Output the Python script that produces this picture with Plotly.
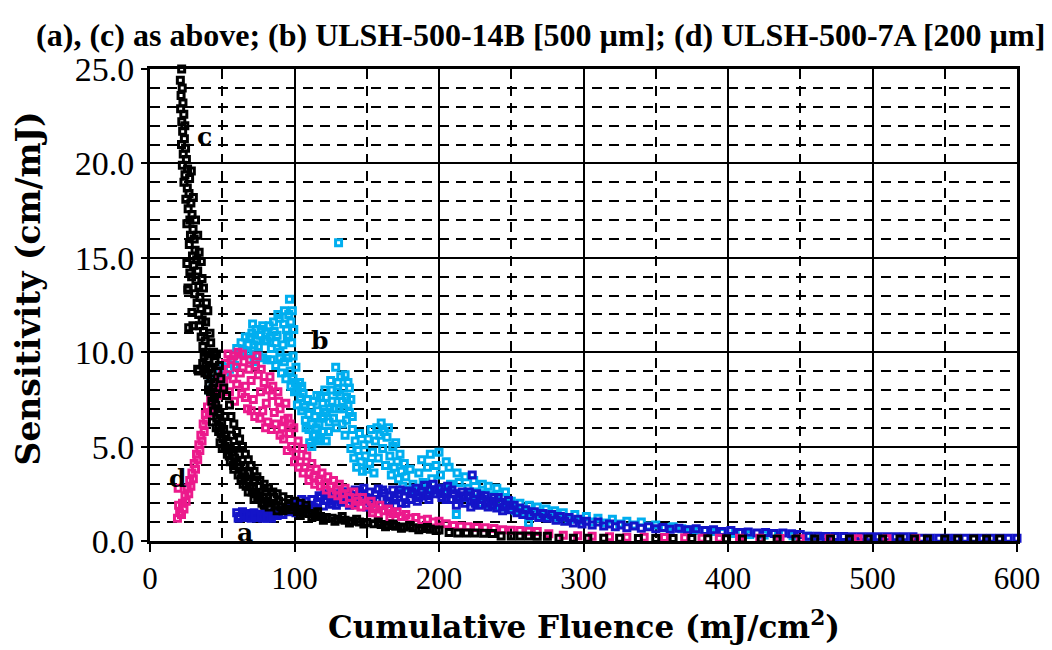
import plotly.graph_objects as go

# Sensitivity vs cumulative fluence, four samples (a)-(d)

# (c) black
c_points = [
    (21.9, 25.0), (21.0, 24.4), (22.3, 24.0), (21.5, 23.6), (22.8, 23.2), (21.2, 22.9), (23.4, 22.6),
    (22.0, 22.2), (24.1, 22.0), (22.6, 21.7), (23.8, 21.3), (21.8, 21.0), (24.6, 20.8), (23.0, 20.5),
    (25.2, 20.2), (22.4, 19.9), (26.0, 19.7), (24.2, 19.4), (27.4, 19.2), (23.5, 19.0), (25.8, 18.7),
    (27.0, 18.4), (24.8, 18.1), (28.3, 17.9), (26.4, 17.6), (29.1, 17.3), (27.6, 17.0), (25.5, 16.8),
    (29.8, 16.5), (28.0, 16.2), (30.6, 16.0), (27.2, 15.7), (31.2, 15.4), (29.4, 15.1), (32.3, 14.9),
    (30.2, 14.6), (33.0, 14.3), (28.8, 14.0), (31.8, 13.8), (33.8, 13.5), (26.3, 13.4), (30.9, 13.1),
    (34.5, 12.9), (32.6, 12.6), (35.2, 12.3), (29.0, 12.1), (33.7, 12.0), (36.1, 11.7), (34.3, 11.4),
    (26.8, 11.3), (37.0, 11.1), (35.4, 10.8), (38.2, 10.6), (36.6, 10.3), (39.0, 10.0), (37.5, 9.8),
    (40.1, 9.6), (38.6, 9.3), (41.0, 9.1), (33.5, 9.0), (39.8, 8.8), (42.2, 8.6), (40.7, 8.3),
    (43.5, 8.1), (41.9, 7.9), (44.6, 7.6), (42.8, 7.4), (45.5, 7.2), (47.0, 7.0), (44.0, 6.9),
    (48.3, 6.7), (46.2, 6.5), (49.6, 6.3), (47.8, 6.1), (51.0, 5.9), (49.2, 5.7), (52.6, 5.6),
    (50.5, 5.4), (54.0, 5.2), (52.0, 5.0), (55.5, 4.9), (57.0, 4.7), (54.8, 4.5), (58.6, 4.4),
    (60.2, 4.2), (57.8, 4.0), (62.0, 3.9), (63.8, 3.7), (61.0, 3.5), (65.6, 3.4), (67.5, 3.2),
    (64.5, 3.0), (69.4, 2.9), (71.5, 2.8), (68.0, 2.6), (73.6, 2.5), (76.0, 2.4), (72.0, 2.2),
    (78.5, 2.3), (81.0, 2.1), (84.0, 2.0), (79.0, 1.9), (87.0, 1.9), (90.5, 1.8), (94.0, 1.7),
    (88.0, 1.6), (98.0, 1.65), (36.5, 9.4), (38.0, 8.9), (40.5, 8.0), (42.0, 9.2), (44.2, 8.4),
    (45.8, 6.0), (43.2, 6.3), (47.5, 5.8), (46.0, 7.8), (48.5, 5.2), (50.0, 4.9), (51.8, 6.6),
    (53.5, 4.6), (55.6, 4.2), (56.4, 5.6), (58.0, 3.8), (59.5, 5.0), (61.8, 4.6), (63.0, 3.3),
    (65.0, 4.0), (66.5, 2.9), (68.8, 3.6), (70.6, 2.6), (72.5, 3.2), (74.5, 2.2), (75.8, 2.9),
    (77.5, 2.0), (80.0, 2.6), (82.5, 1.8), (85.5, 2.3), (89.0, 2.1), (92.0, 1.6), (96.0, 2.0),
    (34.0, 15.3), (35.5, 14.8), (33.0, 16.2), (31.5, 17.0), (30.0, 18.2), (28.6, 19.6),
    (37.0, 13.4), (39.0, 12.6), (40.0, 12.2), (36.0, 13.9), (38.5, 11.6), (41.5, 11.0),
    (42.0, 10.5), (44.0, 10.0), (46.0, 9.9), (48.0, 9.3), (45.0, 9.5), (47.0, 9.0), (49.0, 8.6),
    (51.0, 8.1), (53.0, 7.7), (55.0, 7.2), (56.0, 6.6), (58.0, 6.2), (60.0, 5.8), (62.0, 5.4),
    (64.0, 5.0), (66.0, 4.6), (68.0, 4.3), (70.0, 4.0), (72.0, 3.7), (74.0, 3.4), (76.0, 3.2),
    (79.0, 3.0), (82.0, 2.8), (85.0, 2.6), (88.0, 2.5), (92.0, 2.35), (96.0, 2.2), (100, 2.1),
    (104, 2.0), (108, 1.9), (25.5, 14.7), (27.6, 14.2), (26.2, 13.3), (29.7, 11.4), (33.0, 9.1),
    (100, 1.8), (102, 1.55), (106, 1.5), (104, 1.35), (108, 1.7), (110, 1.45), (112, 1.25),
    (114, 1.4), (116, 1.55), (118, 1.3), (120, 1.1), (122, 1.25), (126, 1.2), (128, 1.05),
    (130, 1.15), (133, 1.3), (135, 1.1), (138, 0.95), (140, 1.05), (143, 1.15), (145, 1.0),
    (148, 0.9), (150, 0.98), (155, 0.92), (158, 1.0), (160, 0.88), (163, 0.75), (165, 0.82),
    (168, 0.9), (170, 0.78), (174, 0.68), (176, 0.74), (180, 0.82), (182, 0.7), (186, 0.6),
    (188, 0.66), (192, 0.72), (194, 0.62), (198, 0.55), (200, 0.58), (207, 0.45), (213, 0.43),
    (219, 0.42), (225, 0.42), (231, 0.41), (237, 0.4), (243, 0.27), (250, 0.27), (256, 0.26),
    (262, 0.26), (268, 0.25), (275, 0.25), (283, 0.15), (293, 0.15), (303, 0.14), (314, 0.14),
    (325, 0.14), (338, 0.13), (350, 0.13), (362, 0.13), (375, 0.13), (386, 0.12), (399, 0.12),
    (410, 0.11), (423, 0.11), (434, 0.11), (447, 0.1), (460, 0.1), (471, 0.1), (484, 0.1),
    (497, 0.1), (507, 0.1), (519, 0.1), (529, 0.1), (538, 0.1), (550, 0.1), (559, 0.1),
    (570, 0.1), (579, 0.1), (588, 0.1),
]

# (d) magenta
d_points = [
    (19.0, 1.2), (20.5, 1.5), (19.8, 1.9), (21.8, 1.4), (22.5, 2.0), (23.5, 1.7), (24.2, 2.4),
    (25.0, 2.1), (25.8, 2.8), (26.8, 2.5), (27.5, 3.2), (28.3, 2.9), (29.0, 3.6), (30.0, 3.3),
    (30.6, 4.1), (31.5, 3.8), (32.2, 4.6), (33.0, 4.3), (33.8, 5.1), (34.5, 4.8), (35.2, 5.6),
    (36.0, 5.3), (36.8, 6.2), (37.5, 5.8), (38.3, 6.7), (39.0, 6.4), (39.8, 7.1), (41.0, 6.8),
    (42.0, 7.5), (43.0, 7.2), (44.0, 7.9), (45.2, 8.3), (46.5, 7.7), (47.5, 8.6), (48.8, 8.1),
    (50.0, 9.0), (51.0, 8.4), (52.2, 9.4), (53.5, 8.8), (55.0, 7.9), (56.0, 9.6), (57.5, 8.6),
    (58.5, 7.4), (60.0, 9.2), (61.0, 10.0), (62.5, 8.9), (63.5, 7.8), (65.0, 9.5), (66.0, 8.2),
    (67.5, 7.0), (68.5, 9.1), (70.0, 8.5), (71.5, 7.5), (72.5, 6.6), (74.0, 9.8), (75.0, 8.8),
    (76.5, 7.9), (78.0, 6.9), (79.0, 8.4), (80.5, 7.3), (81.5, 6.3), (83.0, 8.7), (84.5, 7.7),
    (86.0, 6.8), (87.0, 6.2), (88.5, 7.9), (90.0, 7.0), (91.5, 6.0), (92.5, 5.4), (94.0, 7.3),
    (95.5, 6.5), (96.5, 5.7), (98.0, 5.0), (99.5, 6.0), (101, 4.6), (102.5, 5.3), (104, 4.2),
    (105.5, 4.9), (107, 3.9), (108.5, 4.5), (110, 3.6), (112, 4.1), (113.5, 3.4), (115, 3.8),
    (117, 3.2), (119, 3.6), (121, 3.0), (123, 3.4), (125, 2.9), (127, 3.2), (129, 2.7),
    (131, 3.0), (133, 2.5), (135, 2.8), (138, 2.3), (141, 2.6), (144, 2.1), (147, 2.3),
    (54, 9.9), (58, 9.8), (64, 9.9), (69, 9.6), (73, 9.3), (77, 9.1), (82, 8.0), (85, 8.2),
    (89, 7.4), (93, 6.4), (97, 6.2), (60, 8.3), (66, 7.6), (70, 6.9), (76, 6.5), (80, 6.0),
    (84, 5.9), (90, 5.6), (95, 4.8), (100, 4.2), (103, 3.9), (106, 3.6), (110, 3.2), (114, 3.0),
    (118, 2.9), (122, 2.7), (126, 2.5), (130, 2.4), (134, 2.2), (138, 2.0), (142, 1.9),
    (146, 1.8), (154, 1.5), (158, 1.4), (166, 1.25), (19.5, 2.8),
    (150, 1.9), (153, 2.1), (156, 1.7), (159, 1.9), (162, 1.6), (165, 1.7), (168, 1.45),
    (171, 1.55), (174, 1.3), (177, 1.4), (180, 1.2), (184, 1.25), (188, 1.1), (192, 1.15),
    (196, 1.0), (200, 1.05), (205, 0.92), (210, 0.82), (215, 0.78), (220, 0.76), (226, 0.72),
    (232, 0.7), (238, 0.66), (244, 0.6), (250, 0.57), (256, 0.55), (262, 0.52), (268, 0.5),
    (276, 0.38), (286, 0.3), (296, 0.28), (306, 0.25), (318, 0.22), (330, 0.2), (342, 0.2),
    (356, 0.18), (370, 0.17), (382, 0.15), (394, 0.15), (408, 0.14), (422, 0.14), (436, 0.13),
    (450, 0.12), (470, 0.12), (490, 0.12), (510, 0.12), (530, 0.12),
]

# (b) cyan
b_points = [
    (41.0, 8.0), (42.5, 7.6), (41.8, 8.6), (44.0, 8.4), (46.0, 8.0), (47.5, 8.9), (49.0, 8.5),
    (50.5, 9.2), (52.0, 8.8), (53.5, 9.4), (55.0, 9.1), (57.0, 9.6), (58.5, 9.3), (60.0, 10.2),
    (61.5, 9.9), (63.0, 10.5), (64.5, 10.1), (66.0, 10.8), (67.5, 10.0), (69.0, 10.8), (70.5, 11.0),
    (72.0, 10.4), (73.5, 11.2), (75.0, 9.8), (76.5, 10.9), (78.0, 11.4), (79.5, 10.6), (81.0, 9.6),
    (82.5, 11.4), (84.0, 10.2), (85.5, 11.6), (87.0, 9.3), (88.0, 10.9), (89.5, 11.8), (91.0, 8.9),
    (92.0, 10.4), (93.0, 12.2), (94.5, 11.2), (95.5, 9.7), (96.5, 12.8), (97.5, 11.6), (98.0, 10.5),
    (99.0, 8.6), (100, 7.9), (101, 9.2), (102, 7.2), (103.5, 8.4), (105, 6.9), (106, 7.8),
    (68, 10.4), (71, 11.5), (74, 10.6), (77, 11.2), (80, 11.0), (83, 10.8), (86, 11.1),
    (88.5, 12.0), (90, 10.0), (92.5, 11.5), (95, 10.8), (97, 9.0), (98.5, 12.2), (69, 9.9),
    (72, 9.5), (75, 10.3), (78, 9.7), (81, 10.6), (84, 9.6), (87, 10.5), (90, 9.7), (93, 9.5),
    (96, 10.9), (99, 9.8), (94, 8.6), (97.5, 8.2), (99.5, 11.2), (96, 12.0),
    (100.5, 8.4), (102, 8.0), (104, 7.6), (105, 8.2), (107, 7.1), (108, 6.0), (110, 6.7),
    (112, 6.2), (113, 7.4), (115, 6.0), (116, 6.9), (118, 7.6), (119, 6.5), (120, 5.8),
    (122, 7.6), (124, 6.3), (124.5, 7.0), (126, 8.0), (127.5, 7.0), (129, 6.0), (130, 8.4),
    (131.5, 7.7), (133, 7.4), (134, 7.0), (135, 8.8), (136, 6.4), (137, 7.2), (138, 8.1),
    (139, 7.5), (140, 6.6), (110.5, 5.2), (112, 5.0), (114, 5.6), (116, 5.3), (120, 6.6),
    (122, 5.3),
    (107.5, 6.4), (109, 7.5), (110, 5.9), (111.5, 7.1), (113, 5.6), (114, 6.6), (115.5, 7.7),
    (117, 6.2), (118, 5.4), (119.5, 7.3), (121, 8.0), (122, 6.8), (123.5, 5.8), (125, 8.5),
    (126, 7.4), (127, 6.5), (128.5, 9.2), (129.5, 7.9), (130.5, 15.8), (131, 7.0), (132, 8.7),
    (133, 6.2), (134, 8.1), (135, 5.6), (136, 7.6), (137, 8.4), (138, 6.8), (139, 4.9),
    (140, 5.9), (141, 4.4), (142, 5.3), (143, 3.9), (144, 4.8), (145, 5.7), (146, 4.2),
    (147, 3.7), (148, 5.1), (149, 4.5), (150, 3.8), (151, 5.4), (152, 4.1), (153, 5.9),
    (154, 4.7), (155, 3.6), (156, 5.3), (157, 6.0), (158, 4.4), (159, 5.6), (160, 6.25),
    (161, 4.9), (162, 5.8), (163, 4.0), (164, 5.5), (165, 6.0), (166, 4.5), (167, 3.5),
    (168, 5.0), (169, 3.9), (170, 5.2), (171, 4.2), (172, 3.3), (173, 4.6), (174, 3.7),
    (175, 2.9), (176, 4.1), (177, 3.4), (178, 2.7), (180, 3.8), (182, 3.0), (184, 2.6),
    (186, 3.6), (188, 4.3), (189, 3.1), (191, 2.5), (192, 3.9), (194, 4.6), (195, 3.3),
    (197, 2.7), (198, 4.0), (200, 4.7), (201, 3.5), (203, 2.8), (205, 4.2), (207, 3.9),
    (208, 3.0), (210, 2.5), (212, 1.4), (212.5, 3.6), (214, 3.1), (216, 2.3), (218, 3.4),
    (220, 2.8), (222, 2.1), (224, 3.2), (226, 2.6), (228, 2.0), (230, 3.0), (232, 2.5),
    (234, 2.9), (236, 1.9), (238, 2.4), (240, 2.8), (242, 1.8), (244, 2.3), (246, 2.6),
    (248, 1.7), (250, 2.1), (253, 1.6), (256, 2.0), (259, 1.5), (262, 0.95), (262.5, 1.9),
    (265, 1.45), (268, 1.8), (271, 1.35), (274, 1.7), (277, 1.3), (280, 1.6), (283, 1.25),
    (286, 1.5), (290, 1.15), (294, 1.4), (298, 1.1), (302, 1.3), (306, 1.0), (310, 1.2),
    (315, 0.95), (320, 1.15), (325, 0.9), (330, 1.05), (335, 0.85), (340, 1.0), (345, 0.8),
    (350, 0.85), (356, 0.7), (362, 0.75), (368, 0.65), (374, 0.6), (380, 0.55), (388, 0.5),
    (396, 0.45), (405, 0.4), (415, 0.35), (425, 0.32), (435, 0.3), (445, 0.28), (455, 0.25),
]

# (a) blue
a_points = [
    (60, 1.5), (62, 1.3), (64, 1.55), (66, 1.25), (68, 1.45), (70, 1.2), (72, 1.5), (74, 1.25),
    (76, 1.4), (78, 1.2), (80, 1.45), (82, 1.3), (84, 1.2), (86, 1.5), (88, 1.35), (90, 1.6),
    (92, 1.4), (94, 1.75), (96, 1.55), (98, 1.9), (100, 1.7), (102, 2.0), (104, 1.8), (106, 1.6),
    (108, 2.1), (110, 1.9), (112, 2.2), (114, 1.75), (116, 2.0), (118, 2.3), (120, 1.85),
    (122, 2.15), (124, 2.4), (126, 1.95), (128, 2.25), (130, 2.5), (132, 2.05), (134, 2.35),
    (136, 2.6), (138, 1.9), (140, 2.4), (142, 2.7), (144, 2.2), (146, 2.5), (148, 2.8),
    (150, 1.8), (152, 2.6), (154, 2.15), (156, 2.45), (158, 2.75), (160, 1.9), (162, 2.55),
    (164, 2.1), (166, 2.4), (168, 2.7), (170, 1.85), (172, 2.5), (174, 2.0), (176, 2.35),
    (178, 2.65), (180, 2.2), (182, 2.5), (184, 2.8), (186, 2.3), (188, 2.6), (190, 2.95),
    (192, 2.4), (194, 2.7), (196, 3.0), (198, 2.5), (200, 2.8), (202, 2.3), (204, 2.6),
    (206, 2.9), (208, 2.2), (210, 2.5), (212, 1.9), (214, 2.35), (216, 2.6), (218, 2.0),
    (220, 2.4), (222, 1.8), (223, 3.5), (224, 2.2), (226, 2.5), (228, 1.9), (230, 2.2),
    (101, 1.5), (105, 2.2), (109, 1.7), (113, 1.8), (117, 2.4), (121, 2.5), (125, 2.1),
    (129, 1.9), (133, 2.6), (137, 2.3), (141, 2.0), (145, 2.65), (149, 2.3), (153, 2.0),
    (157, 2.2), (161, 2.7), (165, 2.0), (169, 2.3), (173, 2.7), (177, 2.0), (181, 2.6),
    (185, 2.1), (189, 2.4), (193, 2.2), (197, 2.7), (201, 2.5), (205, 2.2), (209, 2.7),
    (213, 2.2), (217, 2.4), (221, 2.6), (225, 2.0), (229, 2.4), (233, 2.0), (237, 1.9),
    (241, 2.3), (245, 1.8), (249, 1.9), (61, 1.2), (65, 1.4), (69, 1.3), (73, 1.35),
    (77, 1.3), (81, 1.2), (85, 1.35), (89, 1.5), (93, 1.6), (97, 1.7),
    (232, 2.4), (234, 1.8), (236, 2.1), (238, 2.3), (240, 1.75), (242, 2.05), (244, 1.6),
    (246, 1.9), (248, 2.15), (250, 1.65), (252, 1.9), (254, 1.5), (256, 1.75), (258, 1.4),
    (260, 1.65), (263, 1.35), (266, 1.55), (269, 1.25), (272, 1.45), (275, 1.2), (278, 1.4),
    (281, 1.1), (284, 1.3), (287, 1.05), (290, 1.25), (293, 0.95), (296, 1.15), (299, 0.9),
    (302, 1.05), (306, 0.85), (310, 1.0), (314, 0.8), (318, 0.9), (322, 0.75), (326, 0.85),
    (330, 0.7), (335, 0.8), (340, 0.68), (345, 0.75), (350, 0.65), (355, 0.72), (360, 0.62),
    (366, 0.68), (372, 0.6), (378, 0.65), (384, 0.55), (390, 0.6), (396, 0.5), (402, 0.55),
    (408, 0.45), (414, 0.48), (420, 0.42), (426, 0.45), (432, 0.4), (438, 0.43), (444, 0.38),
    (450, 0.35), (456, 0.25), (462, 0.25), (468, 0.24), (474, 0.24), (480, 0.24), (486, 0.23),
    (492, 0.23), (498, 0.23), (504, 0.22), (510, 0.22), (516, 0.22), (522, 0.22), (528, 0.22),
    (534, 0.15), (540, 0.15), (546, 0.15), (552, 0.14), (558, 0.14), (564, 0.14), (570, 0.14),
    (576, 0.14), (582, 0.14), (588, 0.14), (594, 0.14), (600, 0.14),
]

series = [
    ("b", b_points, "#00AEEF"),
    ("a", a_points, "#1414C8"),
    ("d", d_points, "#EC1A8C"),
    ("c", c_points, "#000000"),
]

# curve labels: (text, fluence, sensitivity)
curve_labels = [("c", 38, 21.4), ("b", 117, 10.6), ("d", 19, 3.3), ("a", 65.5, 0.45)]

title_text = "(a), (c) as above; (b) ULSH-500-14B [500 µm]; (d) ULSH-500-7A [200 µm]"
x_title = "Cumulative Fluence (mJ/cm<sup>2</sup>)"
y_title = "Sensitivity (cm/mJ)"

SERIF = "Liberation Serif, Times New Roman, serif"
HEAVY = "DejaVu Serif, serif"

fig = go.Figure()
for name, pts, color in series:
    xs = [p[0] for p in pts]
    ys = [p[1] for p in pts]
    fig.add_trace(go.Scatter(
        x=xs, y=ys, mode="markers", name=name, cliponaxis=False,
        marker=dict(symbol="square-open", size=6, color=color, line=dict(width=3, color=color)),
        showlegend=False,
    ))

for txt, lx, ly in curve_labels:
    fig.add_annotation(x=lx, y=ly, text=txt, showarrow=False,
                       font=dict(family=HEAVY, size=25, color="black", weight="bold"))

# axis titles placed as paper-anchored annotations
fig.add_annotation(xref="paper", yref="paper", x=0.5, y=-0.178, text=x_title,
                   showarrow=False, xanchor="center", yanchor="middle",
                   font=dict(family=HEAVY, size=31, color="black", weight="bold"))
fig.add_annotation(xref="paper", yref="paper", x=-0.1402, y=0.536, text=y_title,
                   showarrow=False, xanchor="center", yanchor="middle", textangle=-90,
                   font=dict(family=HEAVY, size=33, color="black", weight="bold"))

fig.update_layout(
    width=1052, height=650,
    margin=dict(l=150, r=32, t=69, b=109),
    paper_bgcolor="white", plot_bgcolor="white",
    title=dict(text=title_text, x=0.514, xanchor="center", y=0.946, yanchor="middle",
               font=dict(family=SERIF, size=32, color="black", weight="bold")),
)

axis_common = dict(
    showline=True, mirror=True, linecolor="black", linewidth=3,
    showgrid=True, gridcolor="black", gridwidth=2,
    ticks="outside", tickcolor="black", tickwidth=2,
    zeroline=False,
)

fig.update_xaxes(
    range=[0, 600], tick0=0, dtick=100, ticklen=8,
    tickfont=dict(family=SERIF, size=31, color="black"),
    minor=dict(dtick=50, showgrid=True, gridcolor="black", gridwidth=2, griddash="10px,7px"),
    **axis_common,
)
fig.update_yaxes(
    range=[0, 25], tick0=0, dtick=5, tickformat=".1f", ticklen=6,
    tickfont=dict(family=SERIF, size=34, color="black"),
    minor=dict(dtick=1, showgrid=True, gridcolor="black", gridwidth=2, griddash="10px,7px"),
    **axis_common,
)

fig.write_html("out.html")
